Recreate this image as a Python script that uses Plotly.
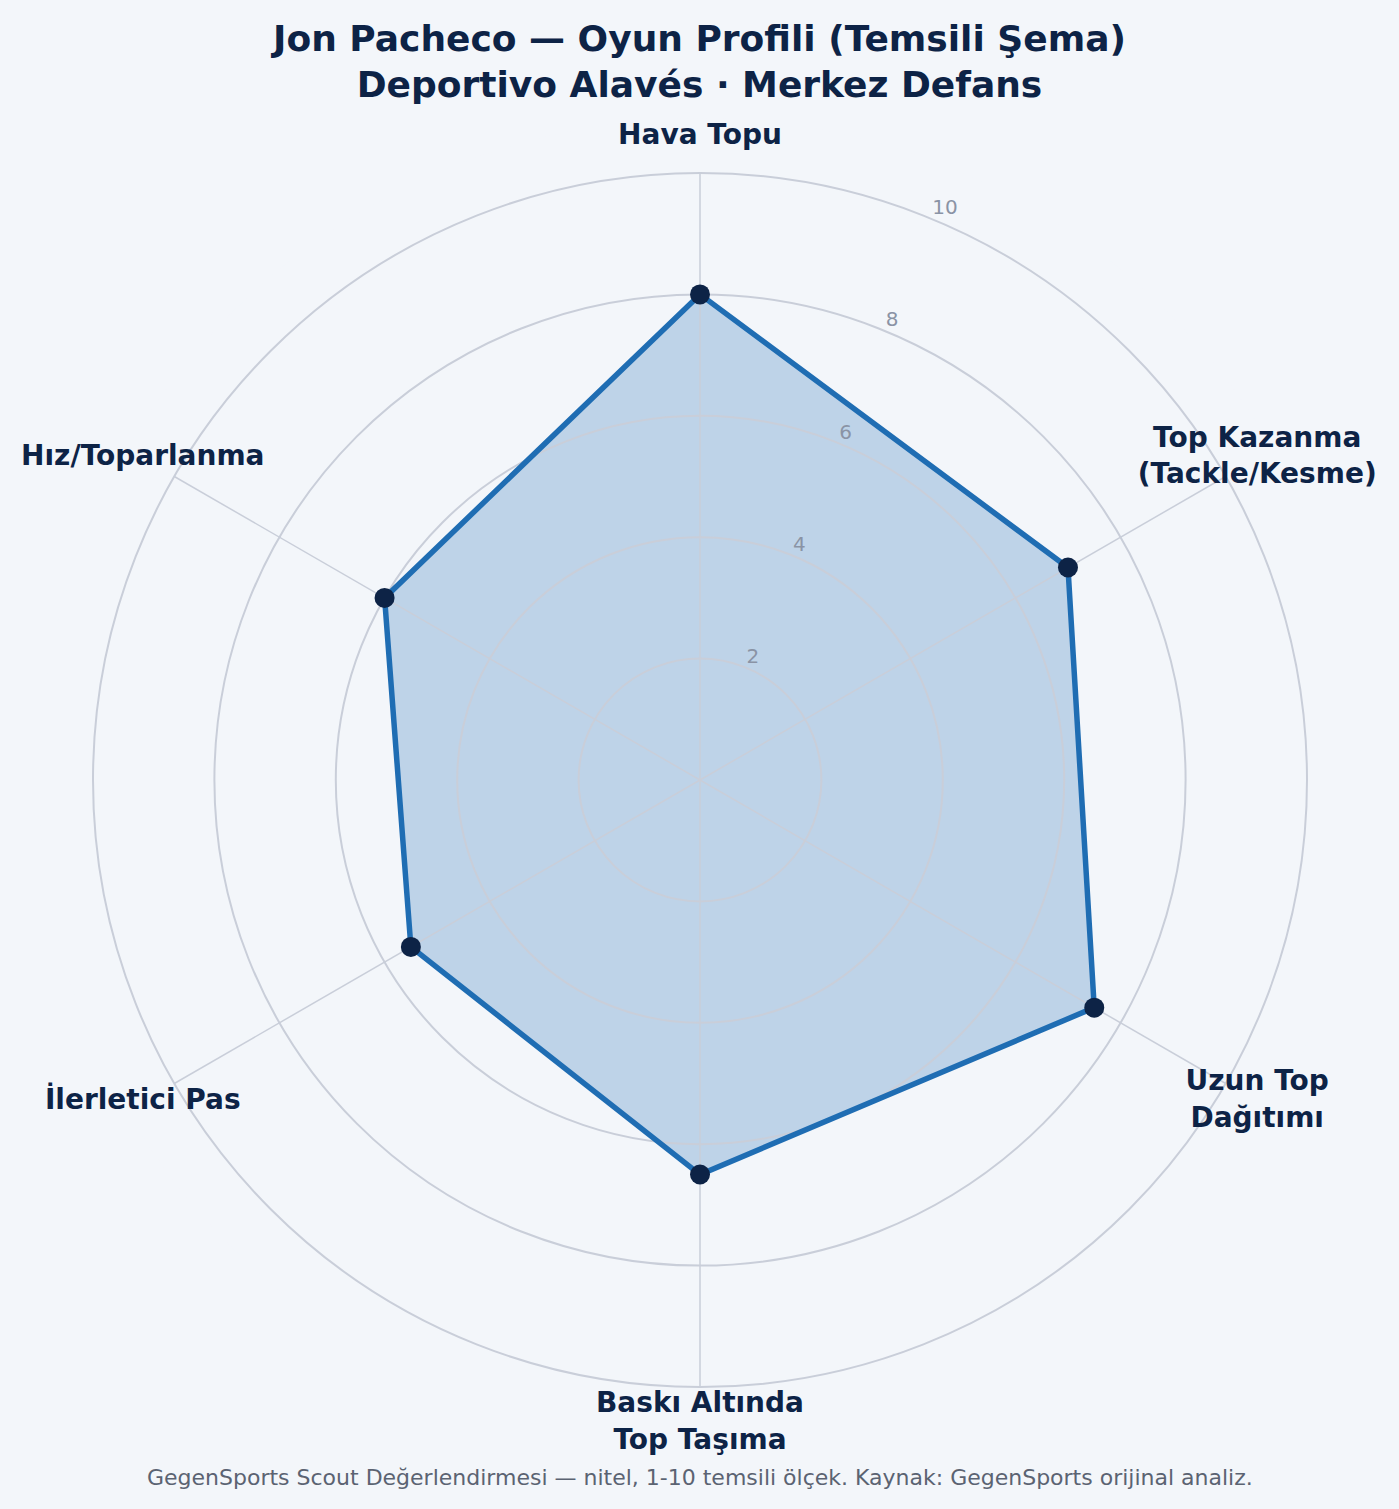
import plotly.graph_objects as go

categories = ["Hava Topu", "Top Kazanma<br>(Tackle/Kesme)", "Uzun Top<br>Dağıtımı",
              "Baskı Altında<br>Top Taşıma", "İlerletici Pas", "Hız/Toparlanma"]
values = [8.0, 7.0, 7.5, 6.5, 5.5, 6.0]
radial_ticks = [2, 4, 6, 8, 10]
radial_tick_labels = ["2", "4", "6", "8", "10"]
r_max = 10
label_radius = 10.6
tick_label_theta = 22.5  # degrees clockwise from the top axis

title_text = "Jon Pacheco — Oyun Profili (Temsili Şema)<br>Deportivo Alavés · Merkez Defans"
footer_text = "GegenSports Scout Değerlendirmesi — nitel, 1-10 temsili ölçek. Kaynak: GegenSports orijinal analiz."

BG = "#f3f6fa"
NAVY = "#0d2346"
LINE = "#1f6db3"
GRID = "#c9ced9"
FONT = "DejaVu Sans"

theta_closed = categories + [categories[0]]
r_closed = values + [values[0]]

# spokes from centre to outer ring (one per category)
spoke_r, spoke_t = [], []
for c in categories:
    spoke_r += [0, r_max, None]
    spoke_t += [c, c, None]

fig = go.Figure()
# bottom subplot: translucent fill
fig.add_trace(go.Scatterpolar(
    r=r_closed, theta=theta_closed, mode="none",
    fill="toself", fillcolor="rgba(31,109,179,0.25)",
    hoverinfo="skip", showlegend=False, subplot="polar",
))
# middle subplot: grid, spokes, outline, markers, category labels
fig.add_trace(go.Scatterpolar(
    r=spoke_r, theta=spoke_t, mode="lines", line=dict(color=GRID, width=1.5),
    hoverinfo="skip", showlegend=False, connectgaps=False, subplot="polar2",
))
fig.add_trace(go.Scatterpolar(
    r=r_closed, theta=theta_closed, mode="lines",
    line=dict(color=LINE, width=5.5), hoverinfo="skip", showlegend=False, subplot="polar2",
))
fig.add_trace(go.Scatterpolar(
    r=values, theta=categories, mode="markers",
    marker=dict(color=NAVY, size=20), showlegend=False, subplot="polar2",
))
fig.add_trace(go.Scatterpolar(
    r=[label_radius] * len(categories), theta=categories, mode="text",
    text=["<b>%s</b>" % c for c in categories], textposition="middle center",
    textfont=dict(family=FONT, size=28, color=NAVY),
    cliponaxis=False, showlegend=False, hoverinfo="skip", subplot="polar2",
))
# top subplot: radial tick labels (left/bottom aligned at each ring along the label angle)
fig.add_trace(go.Scatterpolar(
    r=radial_ticks, theta=[tick_label_theta] * len(radial_ticks), mode="text",
    text=radial_tick_labels, textposition="top right",
    textfont=dict(family=FONT, size=20, color="#8a93a5"),
    cliponaxis=False, showlegend=False, hoverinfo="skip", subplot="polar3",
))

W, H = 1399, 1509
cx, cy, R10 = 700, 780, 607
range_top = 10.9
R = R10 * range_top / r_max
domain = dict(x=[(cx - R) / W, (cx + R) / W], y=[(H - cy - R) / H, (H - cy + R) / H])

angular_common = dict(direction="clockwise", rotation=90, showticklabels=False,
                      ticks="", showgrid=False, showline=False)
radial_hidden = dict(range=[0, range_top], showticklabels=False, showline=False,
                     ticks="", showgrid=False)

fig.update_layout(
    width=W, height=H,
    paper_bgcolor=BG, plot_bgcolor=BG,
    margin=dict(l=0, r=0, t=0, b=0),
    font=dict(family=FONT),
    title=dict(text="<b>" + title_text + "</b>", x=0.5, xanchor="center",
               y=1 - 50.5 / H, yanchor="middle", yref="container",
               font=dict(family=FONT, size=36, color=NAVY)),
    polar=dict(bgcolor=BG, domain=domain, radialaxis=radial_hidden,
               angularaxis=angular_common),
    polar2=dict(
        bgcolor="rgba(0,0,0,0)", domain=domain,
        radialaxis=dict(range=[0, range_top], tickvals=radial_ticks, showticklabels=False,
                        showline=False, ticks="", gridcolor=GRID, gridwidth=1.5),
        angularaxis=angular_common,
    ),
    polar3=dict(bgcolor="rgba(0,0,0,0)", domain=domain, radialaxis=radial_hidden,
                angularaxis=dict(angular_common, type="linear", thetaunit="degrees")),
    annotations=[dict(text=footer_text, x=0.5, y=(H - 1477) / H, xref="paper", yref="paper",
                      xanchor="center", yanchor="middle", showarrow=False,
                      font=dict(family=FONT, size=22, color="#5b6372"))],
)

fig.write_html("out.html", config={"displayModeBar": False},
               post_script="document.body.style.margin='0';")
